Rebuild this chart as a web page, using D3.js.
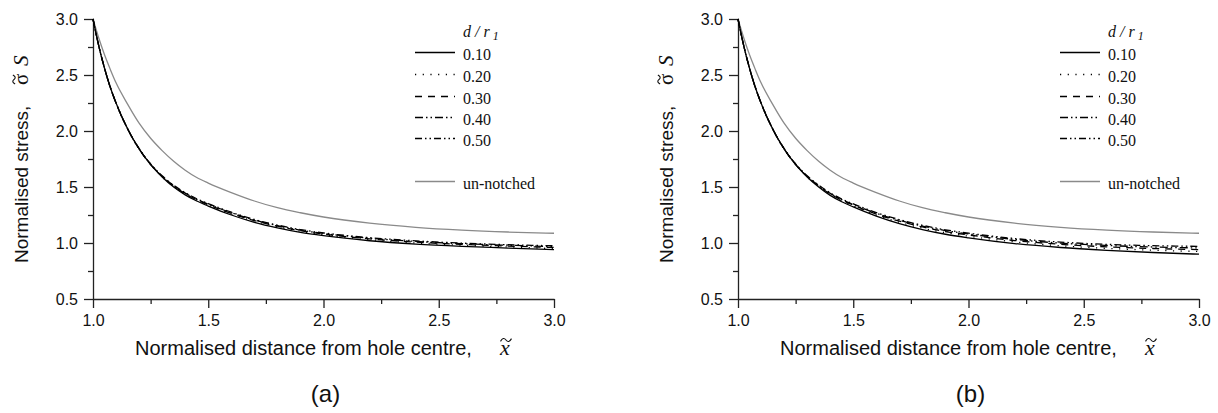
<!DOCTYPE html>
<html>
<head>
<meta charset="utf-8">
<script src="https://cdn.jsdelivr.net/npm/d3@7"></script>
<style>
  html, body { margin: 0; padding: 0; background: #fff; }
  svg { display: block; }
</style>
</head>
<body>
<svg id="chart" width="1218" height="413"></svg>
<script>
// Normalised distance from the hole centre (sample positions)
const xs = [1.0, 1.025, 1.05, 1.075, 1.1, 1.15, 1.2, 1.25, 1.3, 1.35, 1.4, 1.45, 1.5,
            1.6, 1.7, 1.8, 1.9, 2.0, 2.2, 2.4, 2.6, 2.8, 3.0];

// Un-notched plate (same in both panels)
const unnotched = [3.00, 2.83, 2.68, 2.55, 2.43, 2.24, 2.07, 1.935, 1.825, 1.73, 1.65, 1.585, 1.535,
                   1.45, 1.375, 1.315, 1.27, 1.232, 1.177, 1.14, 1.115, 1.098, 1.087];

// Panel (a): notched plates, one array per d/r1 ratio
const a010 = [3.00, 2.76, 2.56, 2.39, 2.25, 2.02, 1.84, 1.70, 1.59, 1.50, 1.43, 1.375, 1.33,
              1.25, 1.185, 1.135, 1.095, 1.065, 1.02, 0.99, 0.97, 0.955, 0.940];
const a020 = [3.00, 2.76, 2.56, 2.39, 2.25, 2.02, 1.84, 1.70, 1.59, 1.505, 1.435, 1.38, 1.337,
              1.258, 1.195, 1.145, 1.105, 1.075, 1.03, 1.00, 0.98, 0.965, 0.950];
const a030 = [3.00, 2.76, 2.56, 2.39, 2.25, 2.02, 1.84, 1.70, 1.595, 1.51, 1.44, 1.385, 1.342,
              1.264, 1.20, 1.15, 1.11, 1.08, 1.037, 1.008, 0.988, 0.973, 0.960];
const a040 = [3.00, 2.76, 2.56, 2.39, 2.25, 2.02, 1.84, 1.705, 1.595, 1.51, 1.445, 1.39, 1.347,
              1.27, 1.205, 1.155, 1.115, 1.085, 1.043, 1.014, 0.994, 0.98, 0.968];
const a050 = [3.00, 2.76, 2.56, 2.39, 2.25, 2.02, 1.845, 1.705, 1.60, 1.515, 1.45, 1.395, 1.352,
              1.275, 1.21, 1.16, 1.12, 1.09, 1.048, 1.019, 0.999, 0.985, 0.975];

// Panel (b): notched plates, one array per d/r1 ratio
const b010 = [3.00, 2.76, 2.56, 2.39, 2.25, 2.02, 1.84, 1.70, 1.59, 1.50, 1.425, 1.368, 1.322,
              1.24, 1.173, 1.12, 1.078, 1.046, 0.995, 0.96, 0.935, 0.915, 0.900];
const b020 = [3.00, 2.76, 2.56, 2.39, 2.25, 2.02, 1.84, 1.70, 1.59, 1.505, 1.432, 1.376, 1.331,
              1.25, 1.185, 1.133, 1.092, 1.061, 1.01, 0.975, 0.952, 0.936, 0.924];
const b030 = [3.00, 2.76, 2.56, 2.39, 2.25, 2.02, 1.84, 1.70, 1.595, 1.51, 1.438, 1.382, 1.338,
              1.258, 1.195, 1.143, 1.102, 1.072, 1.022, 0.988, 0.966, 0.951, 0.941];
const b040 = [3.00, 2.76, 2.56, 2.39, 2.25, 2.02, 1.84, 1.705, 1.595, 1.512, 1.443, 1.388, 1.344,
              1.265, 1.202, 1.151, 1.111, 1.081, 1.032, 0.999, 0.978, 0.964, 0.956];
const b050 = [3.00, 2.76, 2.56, 2.39, 2.25, 2.02, 1.845, 1.705, 1.60, 1.517, 1.448, 1.393, 1.35,
              1.272, 1.209, 1.158, 1.118, 1.088, 1.04, 1.008, 0.988, 0.976, 0.970];

const ratios = ["0.10", "0.20", "0.30", "0.40", "0.50"];
const xMajor = [1.0, 1.5, 2.0, 2.5, 3.0];
const xMinor = [1.25, 1.75, 2.25, 2.75];
const yMajor = [0.5, 1.0, 1.5, 2.0, 2.5, 3.0];
const yMinor = [0.75, 1.25, 1.75, 2.25, 2.75];
const panelLabels = ["(a)", "(b)"];

// Line styles for the d/r1 ratios
const dashes = [null, "1.2,6.5", "7,6", "8,3,1.5,3,1.5,3", "7,3,1.5,3,1.5,3"];

const svg = d3.select("#chart");

const panels = [
  { left: 93,  label: panelLabels[0], series: [a010, a020, a030, a040, a050] },
  { left: 738, label: panelLabels[1], series: [b010, b020, b030, b040, b050] }
];

const plotW = 461, plotTop = 19, plotBottom = 299;
const SANS = '"Liberation Sans", Arial, sans-serif';
const SERIF = '"Liberation Serif", "Times New Roman", serif';

// Small tilde accent drawn as a stroke, centred on (cx, cy)
function tilde(sel, cx, cy, w) {
  const h = w / 4;
  sel.append("path")
    .attr("d", `M${cx - w / 2},${cy + h / 2} Q${cx - w / 4},${cy - h * 1.3} ${cx},${cy} T${cx + w / 2},${cy - h / 2}`)
    .attr("fill", "none").attr("stroke", "#111").attr("stroke-width", 1.1);
}

panels.forEach(p => {
  const x = d3.scaleLinear().domain([1, 3]).range([p.left, p.left + plotW]);
  const y = d3.scaleLinear().domain([0.5, 3]).range([plotBottom, plotTop]);
  const g = svg.append("g");

  // Axes: major labelled ticks + short minor ticks
  const ya = g.append("g").attr("transform", `translate(${p.left},0)`)
    .call(d3.axisLeft(y).tickValues(yMajor).tickFormat(d3.format(".1f"))
      .tickSize(9).tickSizeOuter(0).tickPadding(6));
  ya.selectAll(".tick text").attr("x", -15);
  g.append("g").attr("transform", `translate(${p.left},0)`)
    .call(d3.axisLeft(y).tickValues(yMinor).tickFormat("").tickSize(5).tickSizeOuter(0))
    .select(".domain").remove();

  g.append("g").attr("transform", `translate(0,${plotBottom})`)
    .call(d3.axisBottom(x).tickValues(xMajor).tickFormat(d3.format(".1f"))
      .tickSize(9).tickSizeOuter(0).tickPadding(7));
  g.append("g").attr("transform", `translate(0,${plotBottom})`)
    .call(d3.axisBottom(x).tickValues(xMinor).tickFormat("").tickSize(5).tickSizeOuter(0))
    .select(".domain").remove();

  g.selectAll(".domain, .tick line").attr("stroke", "#222").attr("stroke-width", 1.3);
  g.selectAll(".tick text")
    .attr("fill", "#111")
    .style("font-size", "16px")
    .style("font-family", SANS);

  const line = d3.line()
    .x((d, i) => x(xs[i]))
    .y(d => y(d))
    .curve(d3.curveMonotoneX);

  // Un-notched reference curve
  g.append("path").datum(unnotched)
    .attr("d", line).attr("fill", "none")
    .attr("stroke", "#8a8a8a").attr("stroke-width", 1.3);

  // Notched curves, drawn from the largest ratio down
  p.series.slice().reverse().forEach((s, k) => {
    const i = p.series.length - 1 - k;
    g.append("path").datum(s)
      .attr("d", line).attr("fill", "none")
      .attr("stroke", "#000").attr("stroke-width", 1.3)
      .attr("stroke-dasharray", dashes[i]);
  });

  // Y axis title (rotated), with a tilde over sigma
  const yg = g.append("g").attr("transform", `translate(${p.left - 65},263) rotate(-90)`);
  yg.append("text").attr("x", 0).attr("y", 0)
    .style("font-family", SANS).style("font-size", "19px").attr("fill", "#111")
    .text("Normalised stress,");
  yg.append("text").attr("x", 178).attr("y", 0)
    .style("font-family", SERIF).style("font-size", "21px").attr("fill", "#111")
    .text("σ");
  tilde(yg, 183.5, -14, 9);
  yg.append("text").attr("x", 197).attr("y", 0)
    .style("font-family", SERIF).style("font-size", "21px").style("font-style", "italic")
    .attr("fill", "#111").text("S");

  // X axis title, with a tilde over x
  const xtx = p.left + 42;
  g.append("text").attr("x", xtx).attr("y", 355)
    .style("font-family", SANS).style("font-size", "20px").attr("fill", "#111")
    .text("Normalised distance from hole centre,");
  g.append("text").attr("x", xtx + 365).attr("y", 355)
    .style("font-family", SERIF).style("font-size", "22px").style("font-style", "italic")
    .attr("fill", "#111").text("x");
  tilde(g, xtx + 371, 340, 11);

  // Panel label
  g.append("text")
    .attr("x", (x.range()[0] + x.range()[1]) / 2 + 2).attr("y", 402)
    .attr("text-anchor", "middle")
    .style("font-family", SANS).style("font-size", "24px").attr("fill", "#111")
    .text(p.label);

  // Legend
  const lx = p.left + 322, tx = p.left + 370;
  const lt = g.append("text").attr("x", tx).attr("y", 37)
    .style("font-family", SERIF).style("font-size", "16px").style("font-style", "italic")
    .attr("fill", "#111");
  lt.append("tspan").text("d / r");
  lt.append("tspan").style("font-size", "12px").attr("dx", 3).attr("dy", 3).text("1");

  const rowY = [54, 76, 98, 119, 140];
  ratios.forEach((r, i) => {
    g.append("line").attr("x1", lx).attr("x2", lx + 40)
      .attr("y1", rowY[i] - 1.5).attr("y2", rowY[i] - 1.5)
      .attr("stroke", "#000").attr("stroke-width", 1.3)
      .attr("stroke-dasharray", dashes[i]);
    g.append("text").attr("x", tx).attr("y", rowY[i] + 5.5)
      .style("font-family", SERIF).style("font-size", "16px").attr("fill", "#111").text(r);
  });
  g.append("line").attr("x1", lx).attr("x2", lx + 40)
    .attr("y1", 181.5).attr("y2", 181.5)
    .attr("stroke", "#8a8a8a").attr("stroke-width", 1.3);
  g.append("text").attr("x", tx).attr("y", 188.5)
    .style("font-family", SERIF).style("font-size", "16px").attr("fill", "#111")
    .text("un-notched");
});
</script>
</body>
</html>
